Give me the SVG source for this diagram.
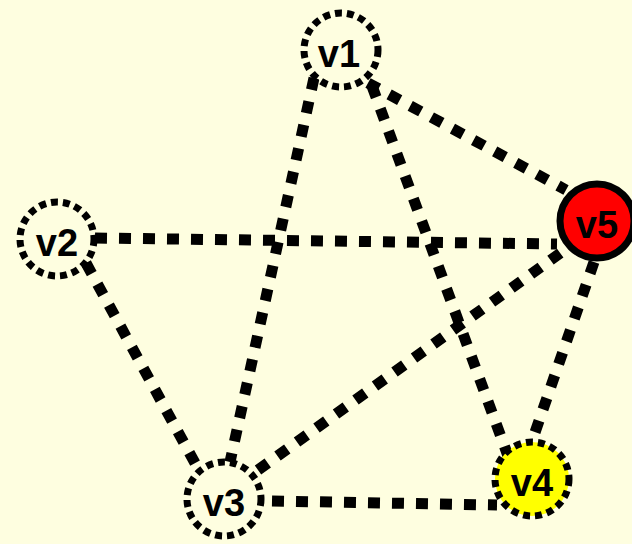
<svg xmlns="http://www.w3.org/2000/svg" width="632" height="544" viewBox="0 0 632 544">
  <style>
    .edge { stroke: #000; stroke-width: 11; stroke-dasharray: 12 12; fill: none; }
    .node { stroke: #000; stroke-width: 7; stroke-dasharray: 7 5; fill: #fefee0; }
    .solid { stroke-dasharray: none; stroke-width: 7; }
    .label { font-family: "Liberation Sans", Arial, sans-serif; font-weight: bold; font-size: 38px; fill: #000; text-anchor: middle; }
  </style>
  <rect width="632" height="544" fill="#fefee0"/>

  <g id="edges">
    <line class="edge" x1="368" y1="83" x2="566" y2="190"/>
    <line class="edge" x1="314" y1="78" x2="230" y2="462"/>
    <line class="edge" x1="372" y1="86" x2="508" y2="456"/>
    <line class="edge" x1="95" y1="238" x2="557" y2="244"/>
    <line class="edge" x1="86" y1="263" x2="202" y2="476"/>
    <line class="edge" x1="258" y1="470" x2="566" y2="249"/>
    <line class="edge" x1="272" y1="501" x2="497" y2="505"/>
    <line class="edge" x1="594" y1="262" x2="531" y2="444"/>
  </g>

  <g id="v1">
    <circle class="node" cx="341" cy="50" r="37"/>
    <text class="label" x="339" y="67">v1</text>
  </g>
  <g id="v2">
    <circle class="node" cx="57" cy="239" r="37"/>
    <text class="label" x="57" y="256">v2</text>
  </g>
  <g id="v3">
    <circle class="node" cx="224" cy="499" r="37"/>
    <text class="label" x="224" y="516">v3</text>
  </g>
  <g id="v4">
    <circle class="node" cx="532" cy="479" r="37" style="fill:#ffff00"/>
    <text class="label" x="532" y="496">v4</text>
  </g>
  <g id="v5">
    <circle class="node solid" cx="597" cy="221" r="37" style="fill:#ff0000"/>
    <text class="label" x="597" y="238">v5</text>
  </g>
</svg>
